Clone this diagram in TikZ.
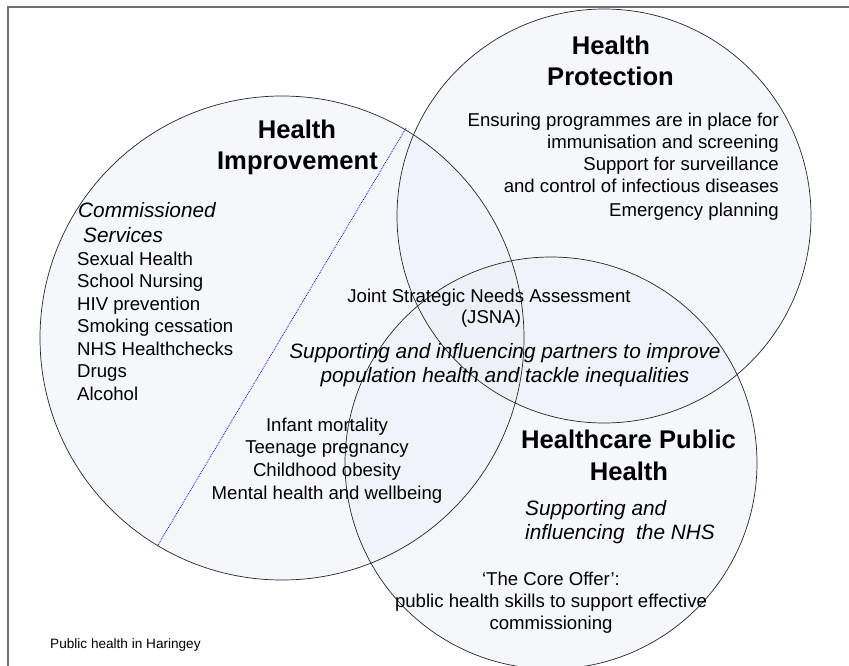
\documentclass[tikz,border=0pt]{standalone}
\usepackage{fontspec}
\setmainfont{Liberation Sans}
\definecolor{circfill}{RGB}{236,240,247}
\definecolor{framegray}{RGB}{110,110,110}
\begin{document}
\begin{tikzpicture}[x=1pt,y=-1pt,
  reg/.style={inner sep=0pt,font=\fontsize{18.6}{22}\selectfont},
  ital/.style={inner sep=0pt,font=\fontsize{20.8}{24}\selectfont\itshape},
  ttl/.style={inner sep=0pt,font=\fontsize{25.6}{30}\selectfont\bfseries},
  small/.style={inner sep=0pt,font=\fontsize{13.6}{16}\selectfont},
  circ/.style={draw=black!85,line width=0.7pt},
  cfill/.style={fill=circfill,fill opacity=0.55}]
\useasboundingbox (0,0) rectangle (849,666);
\clip (0,0) rectangle (849,666);
% frame
\draw[framegray,line width=1.3pt] (8,667) -- (8,7) -- (850,7);
% circle fills
\fill[cfill] (282,338) circle (242);
\fill[cfill] (604,216) circle (207);
\fill[cfill] (551,463) circle (206);
% outlines
\draw[circ] (282,338) circle (242);
\draw[circ] (604,216) circle (207);
\draw[circ] (551,463) circle (206);
% dotted divider
\coordinate (dtop) at (406,128);
\coordinate (dbot) at (158,545);
\draw[blue,densely dotted,line width=0.8pt] (dtop) -- (dbot);
% Health Improvement
\node[ttl,anchor=base] (hi1) at (297,139) {Health};
\node[ttl,anchor=base] (hi2) at (297.5,169) {Improvement};
\node[ital,anchor=base west] (cs1) at (78,217) {Commissioned};
\node[ital,anchor=base west] (cs2) at (83,242) {Services};
\node[reg,anchor=base west] (l1) at (77,265) {Sexual Health};
\node[reg,anchor=base west] (l2) at (77,287.5) {School Nursing};
\node[reg,anchor=base west] (l3) at (77,310) {HIV prevention};
\node[reg,anchor=base west] (l4) at (77,332.5) {Smoking cessation};
\node[reg,anchor=base west] (l5) at (77,355) {NHS Healthchecks};
\node[reg,anchor=base west] (l6) at (77,377.5) {Drugs};
\node[reg,anchor=base west] (l7) at (77,400) {Alcohol};
% Health Protection
\node[ttl,anchor=base] (hp1) at (611,55) {Health};
\node[ttl,anchor=base] (hp2) at (610.5,86) {Protection};
\node[reg,anchor=base east] (p1) at (779,127) {Ensuring programmes are in place for};
\node[reg,anchor=base east] (p2) at (779,149) {immunisation and screening};
\node[reg,anchor=base east] (p3) at (779,171) {Support for surveillance};
\node[reg,anchor=base east] (p4) at (779,193) {and control of infectious diseases};
\node[reg,anchor=base east] (p5) at (779,216) {Emergency planning};
% centre
\node[reg,anchor=base] (j1) at (489,302) {Joint Strategic Needs Assessment};
\node[reg,anchor=base] (j2) at (491,323) {(JSNA)};
\node[ital,anchor=base] (s1) at (505,358) {Supporting and influencing partners to improve};
\node[ital,anchor=base] (s2) at (505,382) {population health and tackle inequalities};
\node[reg,anchor=base] (i1) at (327,431) {Infant mortality};
\node[reg,anchor=base] (i2) at (327,453.5) {Teenage pregnancy};
\node[reg,anchor=base] (i3) at (327,476) {Childhood obesity};
\node[reg,anchor=base] (i4) at (327,499) {Mental health and wellbeing};
% Healthcare Public Health
\node[ttl,anchor=base] (hc1) at (628.5,448) {Healthcare Public};
\node[ttl,anchor=base] (hc2) at (629,480) {Health};
\node[ital,anchor=base west] (n1) at (525,515) {Supporting and};
\node[ital,anchor=base west] (n2) at (525,539) {influencing\ \ the NHS};
\node[reg,anchor=base] (c1) at (551,585) {‘The Core Offer’:};
\node[reg,anchor=base] (c2) at (551,607) {public health skills to support effective};
\node[reg,anchor=base] (c3) at (551,629) {commissioning};
% footer
\node[small,anchor=base west] (foot) at (50,648) {Public health in Haringey};
\end{tikzpicture}
\end{document}
